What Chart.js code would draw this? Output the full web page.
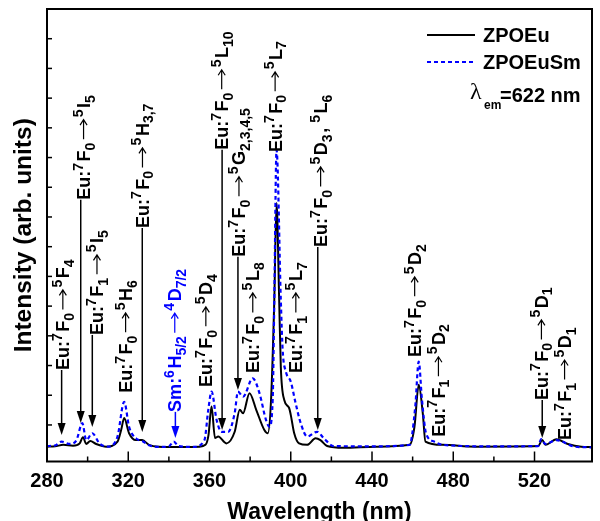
<!DOCTYPE html>
<html lang="en">
<head>
<meta charset="UTF-8">
<script src="https://cdn.jsdelivr.net/npm/chart.js@4.4.0/dist/chart.umd.min.js"></script>
<style>
  html, body { margin: 0; padding: 0; background: #fff; }
</style>
</head>
<body>
<canvas id="myChart" width="600" height="521"></canvas>
<script>
// ZPOEu excitation spectrum (black, solid)
const euWl = [280, 284, 288, 292.8, 296.1, 297.7, 299.3, 301.3, 304.2, 309.1, 314.7, 316.5, 318, 320.4, 323.7, 326.9,
  330.2, 335, 345, 355, 358, 359.5, 361, 362.7, 364.3, 368.3, 372.4, 374.9, 376.5, 379.7, 383, 387, 388.7, 390.3,
  391.9, 393, 394.3, 395.1, 396.8, 399.2, 400, 401.7, 404.1, 408.1, 412.2, 414.6, 417.9, 426, 442, 458.5, 460.9,
  463, 465, 466.3, 474.7, 491, 521.8, 523.8, 525.4, 530.8, 536.4, 543, 548.3];
const euInt = [0.27, 0.28, 0.33, 0.30, 0.38, 0.59, 0.36, 0.46, 0.36, 0.27, 0.44, 0.83, 1.23, 0.72, 0.49, 0.49,
  0.33, 0.27, 0.26, 0.27, 0.33, 0.66, 1.62, 0.56, 0.61, 0.38, 0.77, 1.51, 1.39, 2.07, 1.51, 0.83, 0.72, 1.84,
  5.21, 8.47, 5.21, 2.96, 1.84, 1.57, 1.34, 0.72, 0.38, 0.33, 0.55, 0.49, 0.29, 0.23, 0.27, 0.33, 0.94,
  2.35, 1.39, 0.44, 0.33, 0.27, 0.29, 0.49, 0.33, 0.52, 0.36, 0.27, 0.26];

// ZPOEuSm excitation spectrum (blue, dashed)
const smWl = [280, 284, 287.2, 291.2, 294.5, 297.4, 299.3, 302.3, 305.8, 309.9, 314.7, 318, 320.4, 323.7, 326.9,
  330.2, 336, 340, 342.4, 344.8, 352, 357.5, 359.4, 361, 363.5, 365.9, 369.2, 372.4, 374, 376.5, 381.3, 384.6,
  387.8, 389.5, 391.1, 391.9, 393, 395.1, 396, 397.6, 400, 402.4, 404.9, 408.1, 413, 416.3, 421.1, 440, 458.5,
  461.3, 463, 464.6, 466.6, 470.6, 474.7, 500, 521.8, 523.3, 525.4, 530.8, 539.8, 546, 548.3];
const smInt = [0.29, 0.31, 0.44, 0.36, 0.49, 1.06, 0.49, 0.72, 0.38, 0.27, 0.61, 1.78, 0.94, 0.55, 0.46,
  0.32, 0.26, 0.28, 0.44, 0.29, 0.26, 0.49, 1.51, 2.12, 1.17, 0.77, 0.77, 1.40, 2.12, 1.95, 2.57, 2.07,
  1.17, 0.94, 1.84, 5.21, 10.26, 5.21, 3.53, 2.79, 2.46, 1.73, 1.06, 0.61, 0.77, 0.55, 0.29, 0.28, 0.33,
  1.62, 3.13, 1.84, 0.72, 0.44, 0.33, 0.28, 0.29, 0.52, 0.36, 0.49, 0.27, 0.25, 0.24];

const xTickLabels = [280, 320, 360, 400, 440, 480, 520];
const seriesNames = ['ZPOEu', 'ZPOEuSm'];

// transition labels: text, wavelength of text column, intensity where text starts,
// arrow wavelength and arrow tip intensity (null = no arrow)
const peakLabels = ['Eu:^7F_0→^5F_4', 'Eu:^7F_0→^5I_5', 'Eu:^7F_1→^5I_5', 'Eu:^7F_0→^5H_6', 'Eu:^7F_0→^5H_{3,7}',
  'Sm:^6H_{5/2}→^4D_{7/2}', 'Eu:^7F_0→^5D_4', 'Eu:^7F_0→^5L_{10}', 'Eu:^7F_0→^5G_{2,3,4,5}', 'Eu:^7F_0→^5L_8',
  'Eu:^7F_0→^5L_7', 'Eu:^7F_1→^5L_7', 'Eu:^7F_0→^5D_3, ^5L_6', 'Eu:^7F_0→^5D_2', 'Eu:^7F_1→^5D_2',
  'Eu:^7F_0→^5D_1', 'Eu:^7F_1→^5D_1'];
const labelWl = [287.8, 298.0, 304.6, 318.7, 327.0, 342.9, 358.2, 366.0, 374.5, 381.3, 392.3, 402.5, 414.7,
  461.0, 472.7, 523.4, 534.8];
const labelStart = [2.85, 8.58, 4.03, 2.08, 7.63, 1.44, 2.28, 10.26, 6.66, 2.75, 10.19, 2.75, 6.99, 3.29, 0.60,
  1.84, 0.49];
const arrowWl = [287.2, 296.6, 302.3, null, 326.9, 343.2, null, 366.2, 374.0, null, null, null, 413.3, null, null,
  523.8, null];
const arrowTip = [0.66, 1.07, 0.93, null, 0.76, 0.56, null, 0.83, 2.18, null, null, null, 0.83, null, null,
  0.56, null];
const labelColor = peakLabels.map(t => t.startsWith('Sm') ? '#0000ff' : '#000');

const MAIN_FONT = 'bold 18px "Liberation Sans", Arial, sans-serif';
const SMALL_FONT = 'bold 14px "Liberation Sans", Arial, sans-serif';

function richText(ctx, str, x0, y0, color) {
  const segs = [];
  let i = 0;
  while (i < str.length) {
    const c = str[i];
    if (c === '^' || c === '_') {
      let t;
      if (str[i + 1] === '{') {
        const j = str.indexOf('}', i);
        t = str.slice(i + 2, j);
        i = j + 1;
      } else {
        t = str[i + 1];
        i += 2;
      }
      segs.push({ t: t, k: c });
    } else {
      let j = i;
      while (j < str.length && str[j] !== '^' && str[j] !== '_') j++;
      segs.push({ t: str.slice(i, j), k: 'n' });
      i = j;
    }
  }
  ctx.save();
  ctx.translate(x0, y0);
  ctx.rotate(-Math.PI / 2);
  ctx.fillStyle = color;
  ctx.strokeStyle = color;
  ctx.textAlign = 'left';
  ctx.textBaseline = 'alphabetic';
  const base = 6.5;
  let pos = 0;
  segs.forEach(s => {
    if (s.k === 'n') {
      s.t.split(/(→)/).forEach(part => {
        if (!part) return;
        if (part === '→') {
          // thin drawn arrow
          ctx.lineWidth = 1.2;
          ctx.beginPath();
          ctx.moveTo(pos + 2, 0);
          ctx.lineTo(pos + 21, 0);
          ctx.moveTo(pos + 16, -3.5);
          ctx.lineTo(pos + 21.5, 0);
          ctx.lineTo(pos + 16, 3.5);
          ctx.stroke();
          pos += 24;
          return;
        }
        ctx.font = MAIN_FONT;
        ctx.fillText(part, pos, base);
        pos += ctx.measureText(part).width;
      });
    } else {
      ctx.font = SMALL_FONT;
      ctx.fillText(s.t, pos, s.k === '^' ? base - 7.5 : base + 4.5);
      pos += ctx.measureText(s.t).width + 1.5;
    }
  });
  ctx.restore();
}

function line(ctx, x1, y1, x2, y2) {
  ctx.beginPath();
  ctx.moveTo(x1, y1);
  ctx.lineTo(x2, y2);
  ctx.stroke();
}

const decor = {
  id: 'decor',
  afterDatasetsDraw(chart) {
    const { ctx, chartArea: a, scales: { x, y } } = chart;
    ctx.save();
    ctx.strokeStyle = '#000';
    ctx.lineWidth = 2;
    ctx.strokeRect(a.left, a.top, a.right - a.left, a.bottom - a.top);

    // inward ticks
    ctx.lineWidth = 1.5;
    x.ticks.forEach(t => {
      if (t.value <= x.min || t.value >= x.max) return;
      const px = x.getPixelForValue(t.value);
      line(ctx, px, a.bottom, px, a.bottom - (t.value % 40 === 0 ? 10 : 5));
    });
    y.ticks.forEach(t => {
      if (t.value <= 0 || t.value >= y.max) return;
      const py = y.getPixelForValue(t.value);
      line(ctx, a.left, py, a.left + 5, py);
    });

    // transition labels and arrows
    peakLabels.forEach((txt, i) => {
      const col = labelColor[i];
      const tx = x.getPixelForValue(labelWl[i]);
      const ty = y.getPixelForValue(labelStart[i]);
      richText(ctx, txt, tx, ty, col);
      if (arrowWl[i] !== null) {
        const ax = x.getPixelForValue(arrowWl[i]);
        const tip = y.getPixelForValue(arrowTip[i]);
        ctx.strokeStyle = col;
        ctx.fillStyle = col;
        ctx.lineWidth = 1.5;
        line(ctx, ax, ty, ax, tip - 8);
        ctx.beginPath();
        ctx.moveTo(ax, tip);
        ctx.lineTo(ax - 4, tip - 12);
        ctx.lineTo(ax + 4, tip - 12);
        ctx.closePath();
        ctx.fill();
      }
    });

    // legend
    ctx.lineWidth = 2;
    ctx.strokeStyle = '#000';
    line(ctx, 427, 35, 475, 35);
    ctx.strokeStyle = '#0000ff';
    ctx.setLineDash([4, 3]);
    line(ctx, 427, 62, 475, 62);
    ctx.setLineDash([]);
    ctx.fillStyle = '#000';
    ctx.font = 'bold 20px "Liberation Sans", Arial, sans-serif';
    ctx.textAlign = 'left';
    ctx.textBaseline = 'middle';
    ctx.fillText(seriesNames[0], 483, 36);
    ctx.fillText(seriesNames[1], 483, 63);
    ctx.font = '24px "Liberation Serif", serif';
    ctx.fillText('λ', 470, 93);
    ctx.font = 'bold 12px "Liberation Sans", Arial, sans-serif';
    ctx.fillText('em', 484, 106);
    ctx.font = 'bold 20px "Liberation Sans", Arial, sans-serif';
    ctx.fillText('=622 nm', 500, 96);

    // axis titles
    ctx.font = 'bold 23px "Liberation Sans", Arial, sans-serif';
    ctx.textAlign = 'center';
    ctx.fillText('Wavelength (nm)', (a.left + a.right) / 2, 513);
    ctx.font = 'bold 24.5px "Liberation Sans", Arial, sans-serif';
    ctx.save();
    ctx.translate(24, (a.top + a.bottom) / 2);
    ctx.rotate(-Math.PI / 2);
    ctx.fillText('Intensity (arb. units)', 0, 0);
    ctx.restore();
    ctx.restore();
  }
};

const toPts = (xs, ys) => xs.map((v, i) => ({ x: v, y: ys[i] }));

new Chart(document.getElementById('myChart'), {
  type: 'line',
  data: {
    datasets: [
      {
        label: seriesNames[1],
        data: toPts(smWl, smInt),
        borderColor: '#0000ff',
        borderWidth: 2.2,
        borderDash: [4, 3],
        pointRadius: 0,
        cubicInterpolationMode: 'monotone',
        fill: false
      },
      {
        label: seriesNames[0],
        data: toPts(euWl, euInt),
        borderColor: '#000',
        borderWidth: 2,
        pointRadius: 0,
        cubicInterpolationMode: 'monotone',
        fill: false
      }
    ]
  },
  options: {
    responsive: false,
    animation: false,
    devicePixelRatio: 1,
    layout: { padding: { top: 9, right: 2.3, left: 0, bottom: 0 } },
    plugins: { legend: { display: false }, tooltip: { enabled: false } },
    scales: {
      x: {
        type: 'linear',
        min: 280,
        max: 548.3,
        grid: { display: false, drawTicks: false },
        border: { display: false },
        afterFit(s) { s.height = 59.5; },
        ticks: {
          stepSize: 20,
          autoSkip: false,
          maxRotation: 0,
          padding: 8,
          color: '#000',
          font: { family: '"Liberation Sans", Arial, sans-serif', size: 20, weight: 'bold' },
          callback: v => xTickLabels.includes(v) ? String(v) : ''
        }
      },
      y: {
        min: -0.23,
        max: 15,
        grid: { display: false, drawTicks: false },
        border: { display: false },
        afterFit(s) { s.width = 47; },
        ticks: { stepSize: 1, display: false }
      }
    }
  },
  plugins: [decor]
});
</script>
</body>
</html>
